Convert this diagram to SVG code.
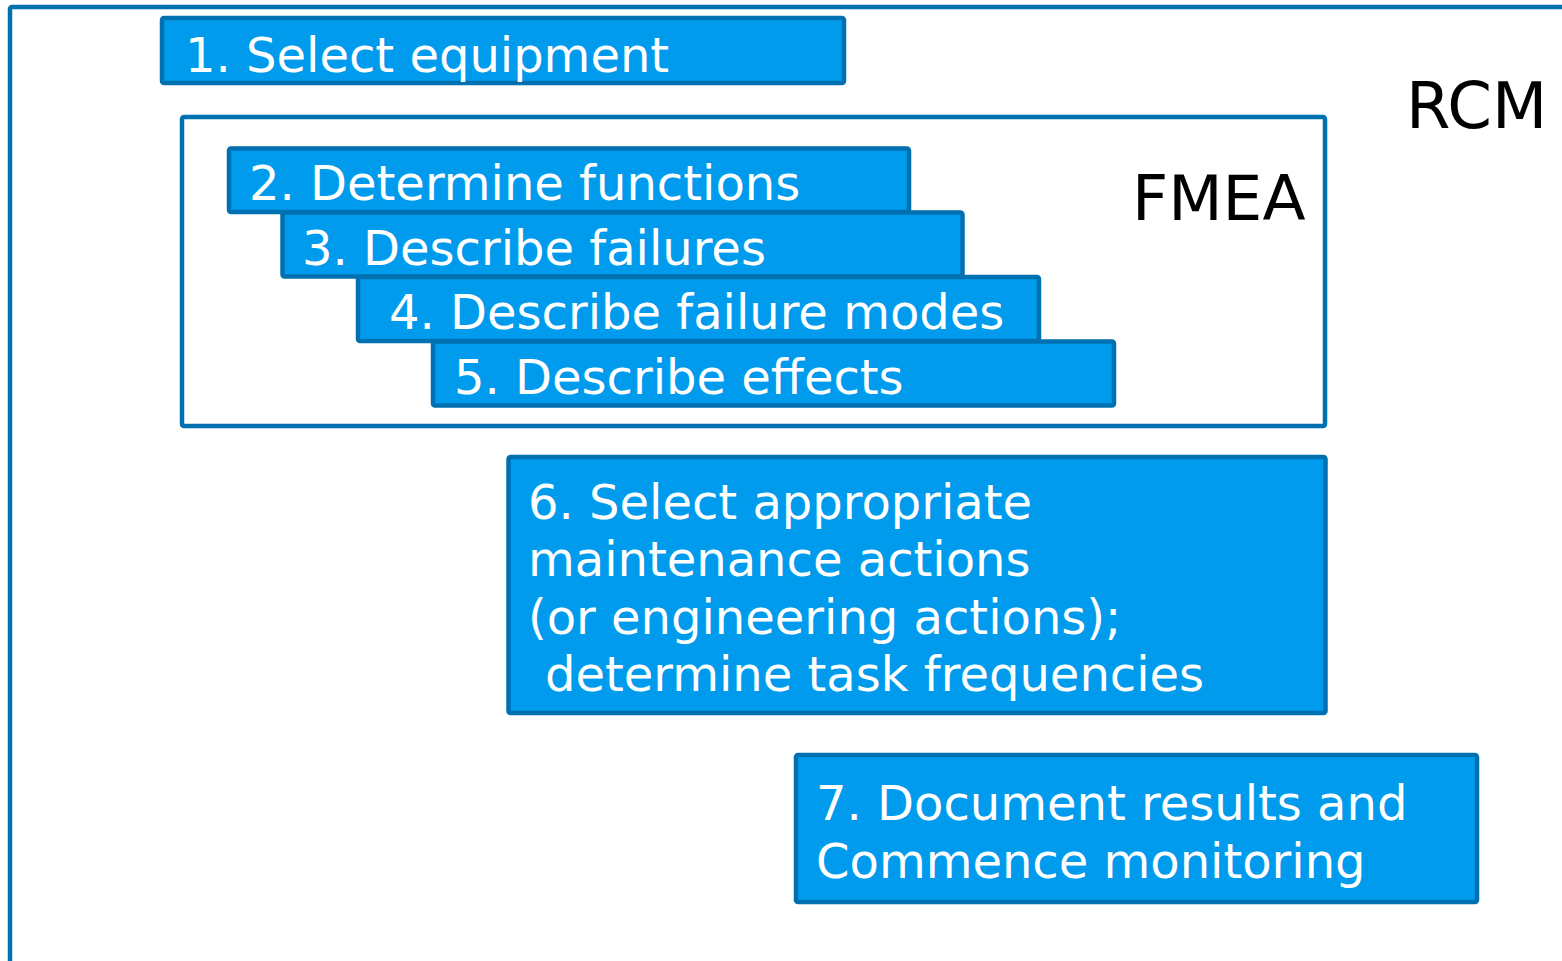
<svg xmlns="http://www.w3.org/2000/svg" width="1562" height="961" viewBox="0 0 1562 961">
  <style>
    .frame { fill: #ffffff; stroke: #0070b0; stroke-width: 4.5; }
    .step { fill: #009bec; stroke: #0070b0; stroke-width: 4.5; }
    .label { font-family: "DejaVu Sans", Verdana, sans-serif; font-size: 48px; fill: #ffffff; }
    .title { font-family: "DejaVu Sans", Verdana, sans-serif; font-size: 63px; fill: #000000; }
  </style>
  <rect width="1562" height="961" fill="#ffffff"/>

  <!-- RCM frame (runs off the right and bottom edges) -->
  <g id="rcm">
    <rect class="frame" x="10" y="7" width="1600" height="1000" rx="2"/>
    <text class="title" x="1406" y="128" style="font-size:64px">RCM</text>
  </g>

  <g id="step1">
    <rect class="step" x="162" y="18" width="682" height="65" rx="2"/>
    <text class="label" x="185" y="72">1. Select equipment</text>
  </g>

  <!-- FMEA frame -->
  <g id="fmea">
    <rect class="frame" x="182" y="117" width="1143" height="309" rx="2"/>
    <text class="title" x="1132" y="220">FMEA</text>
  </g>

  <g id="step2">
    <rect class="step" x="229" y="148.5" width="680" height="63.5" rx="2"/>
    <text class="label" x="249" y="200">2. Determine functions</text>
  </g>

  <g id="step3">
    <rect class="step" x="282.5" y="212.5" width="680" height="64" rx="2"/>
    <text class="label" x="302" y="265">3. Describe failures</text>
  </g>

  <g id="step4">
    <rect class="step" x="358" y="277" width="681" height="64" rx="2"/>
    <text class="label" x="389" y="329">4. Describe failure modes</text>
  </g>

  <g id="step5">
    <rect class="step" x="433" y="341.5" width="681" height="64" rx="2"/>
    <text class="label" x="454" y="394">5. Describe effects</text>
  </g>

  <g id="step6">
    <rect class="step" x="508.5" y="457" width="817" height="256" rx="2"/>
    <text class="label" x="528" y="519">6. Select appropriate</text>
    <text class="label" x="528" y="576">maintenance actions</text>
    <text class="label" x="528" y="634">(or engineering actions);</text>
    <text class="label" x="545" y="691">determine task frequencies</text>
  </g>

  <g id="step7">
    <rect class="step" x="796" y="755" width="681" height="147" rx="2"/>
    <text class="label" x="816" y="820">7. Document results and</text>
    <text class="label" x="816" y="878">Commence monitoring</text>
  </g>

  <!-- no connectors in this figure -->
  <g id="connectors"/>
</svg>
